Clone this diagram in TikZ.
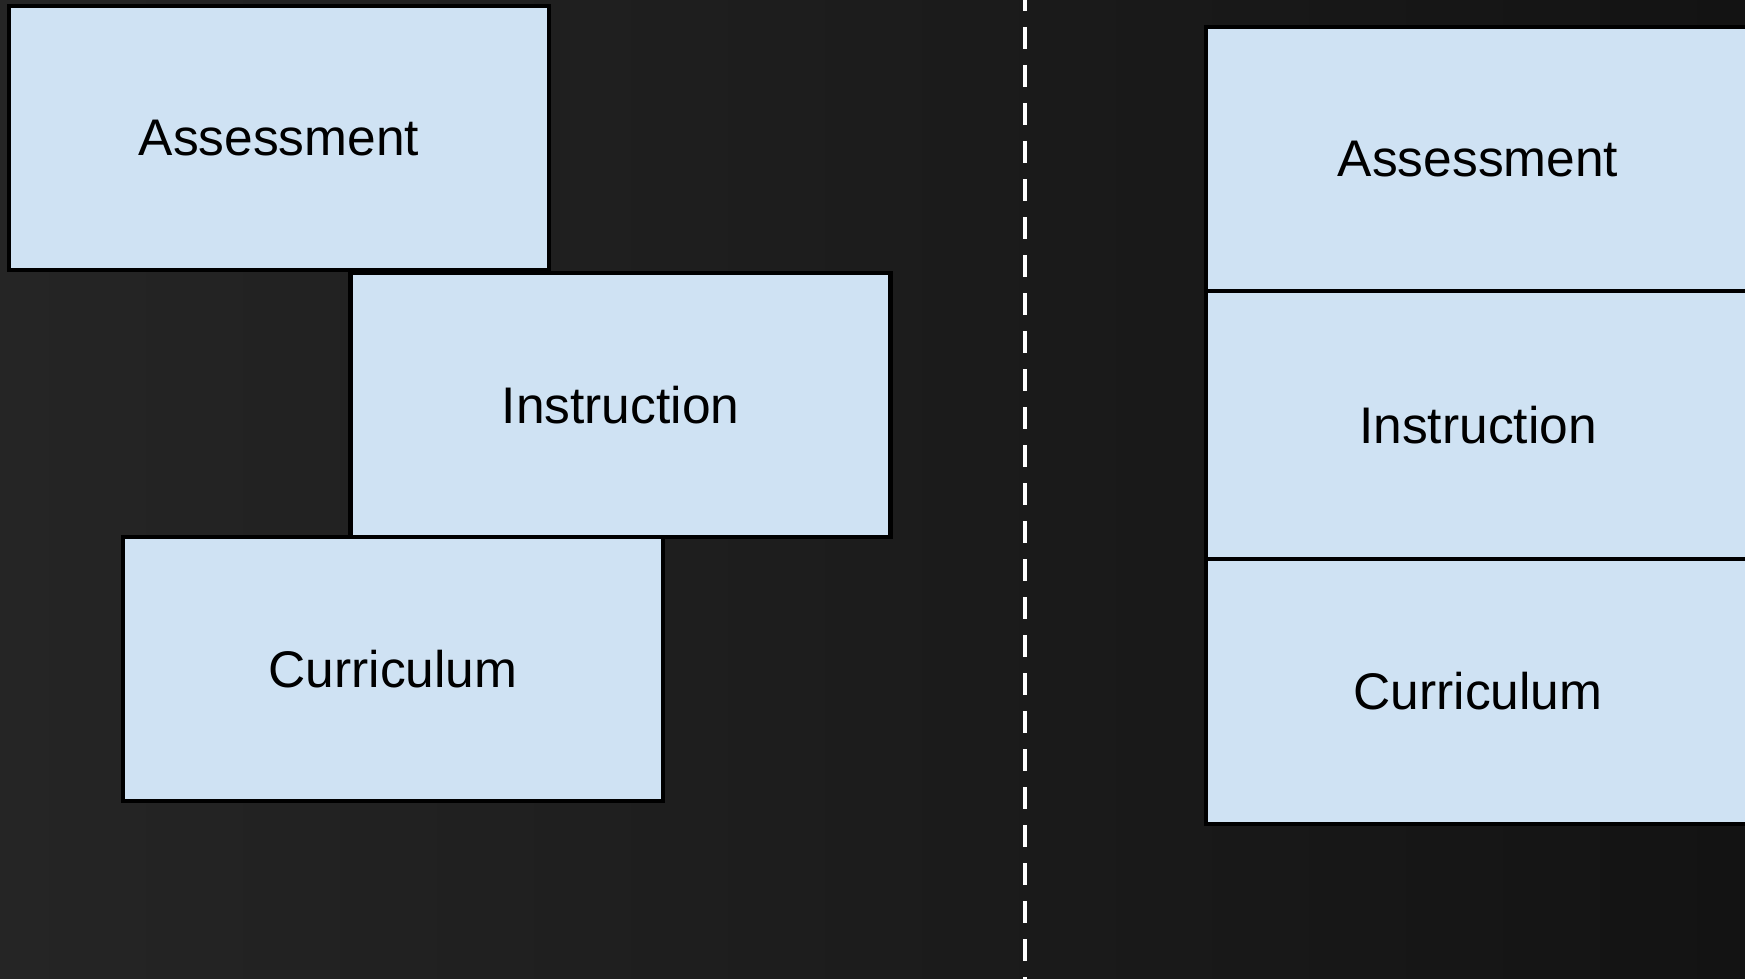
\documentclass[tikz,border=0pt]{standalone}
\usepackage{fontspec}
\setmainfont{Liberation Sans}
\definecolor{boardL}{HTML}{252525}
\definecolor{boardR}{HTML}{131313}
\definecolor{cardfill}{HTML}{CFE2F3}
\tikzset{
  card/.style={draw=black, line width=4.5pt, fill=cardfill, rectangle,
    inner sep=0pt, minimum width=540pt, minimum height=264pt,
    font=\fontsize{51.5}{60}\selectfont, text=black},
  stackcard/.style={card, minimum width=544pt},
  divider/.style={draw=white, line width=3.5pt, dash pattern=on 22pt off 16pt, dash phase=11pt}
}
\begin{document}
\begin{tikzpicture}[x=1pt,y=-1pt]
  % chalkboard background
  \useasboundingbox (0,0) rectangle (1745,979);
  \shade[left color=boardL, right color=boardR] (0,0) rectangle (1745,979);

  % staggered arrangement
  \node[card] (assessL) at (279,138) {Assessment};
  \node[card] (instrL)  at (620.5,405) {Instruction};
  \node[card] (currL)   at (393,669) {Curriculum};

  % dividing line
  \coordinate (divTop) at (1025,0);
  \coordinate (divBot) at (1025,979);
  \draw[divider] (divTop) -- (divBot);

  % aligned stack
  \node[stackcard, minimum height=264pt] (assessR) at (1478,159) {Assessment};
  \node[stackcard, minimum height=268pt] (instrR)  at (1478,425) {Instruction};
  \node[stackcard, minimum height=265pt] (currR)   at (1478,691.5) {Curriculum};
\end{tikzpicture}
\end{document}
